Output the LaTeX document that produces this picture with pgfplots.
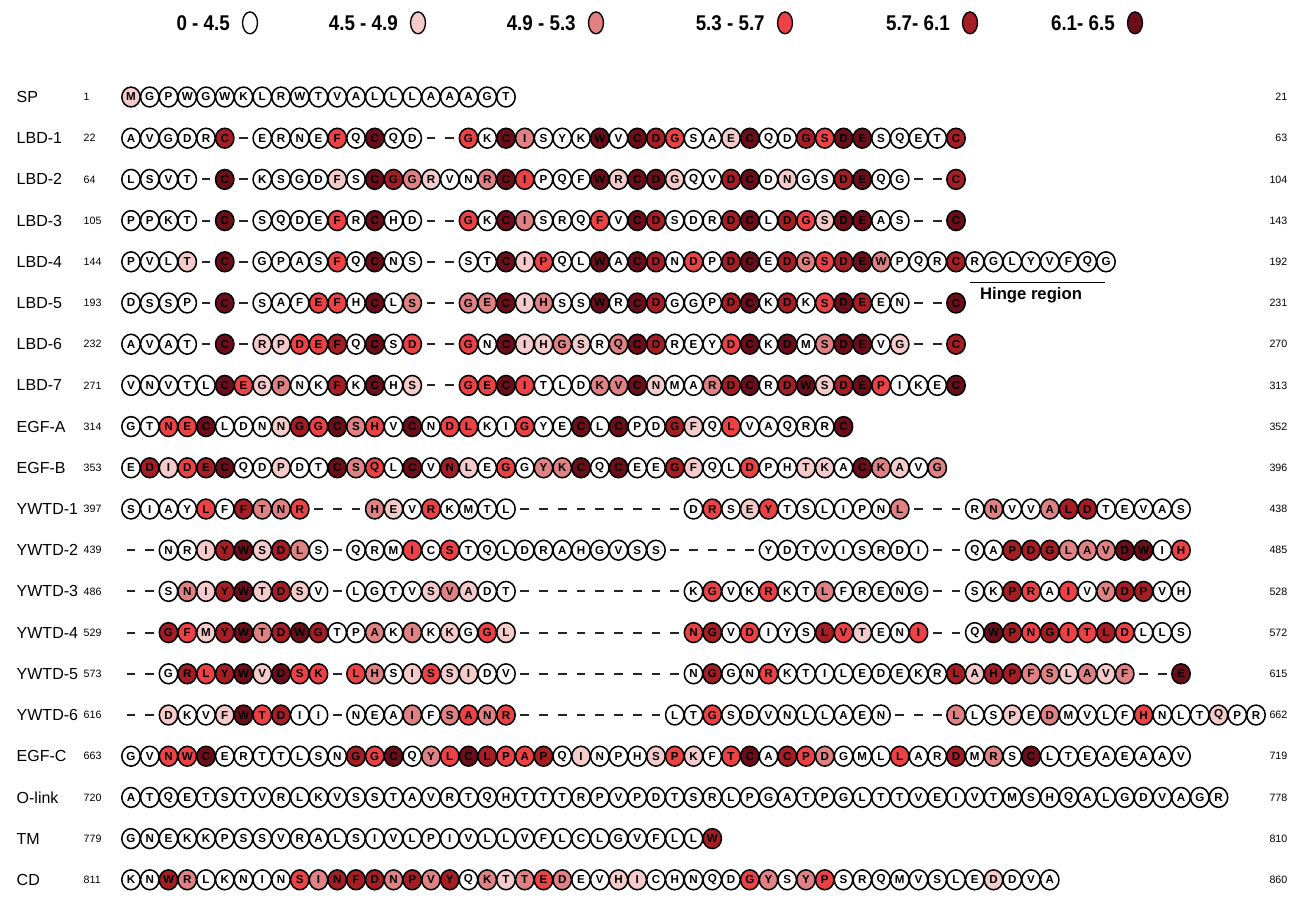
\documentclass[border=0pt]{standalone}
\usepackage{pgfplots}
\pgfplotsset{compat=1.18}
\usepackage{fontspec}
\setmainfont{Liberation Sans}
\newfontfamily\legfont[FakeStretch=0.88]{Liberation Sans}

% score classes: 0-4.5, 4.5-4.9, 4.9-5.3, 5.3-5.7, 5.7-6.1, 6.1-6.5
\definecolor{c1}{HTML}{F5CACA}
\definecolor{c2}{HTML}{E08283}
\definecolor{c3}{HTML}{EC4245}
\definecolor{c4}{HTML}{A51E23}
\definecolor{c5}{HTML}{6B0E19}

\newcommand\resfont{\bfseries\fontsize{8.7pt}{8.7pt}\selectfont}
\newcommand\labfont{\fontsize{12pt}{12pt}\selectfont}
\newcommand\numfont{\fontsize{8pt}{8pt}\selectfont}
\newcommand\keyfont{\legfont\bfseries\fontsize{16pt}{16pt}\selectfont}

\pgfplotsset{
  res/.style={
    only marks, scatter, scatter src=explicit symbolic,
    scatter/classes={
      0={mark=*,draw=black,fill=white},
      1={mark=*,draw=black,fill=c1},
      2={mark=*,draw=black,fill=c2},
      3={mark=*,draw=black,fill=c3},
      4={mark=*,draw=black,fill=c4},
      5={mark=*,draw=black,fill=c5}},
    mark size=6.9pt,
    every mark/.append style={line width=1.15pt, yscale=1.08},
    visualization depends on={value \thisrow{a}\as\resname},
    nodes near coords*={\resname},
    every node near coord/.append style={anchor=center, inner sep=0pt, text=black, font=\resfont},
  },
  gap/.style={only marks, mark=-, mark size=3.2pt, black!85, mark options={line width=1.5pt}},
}

% row name, first and last residue number
\newcommand\rowlab[4]{%
  \node[anchor=west, font=\labfont] at (axis cs:-6.347,#1) {#2};
  \node[anchor=west, font=\numfont] at (axis cs:-2.773,#1) {#3};
  \node[anchor=east, font=\numfont] at (axis cs:61.92,#1) {#4};}

% legend key: text end, ellipse centre, label, colour
\newcommand\legkey[4]{%
  \node[anchor=east, font=\keyfont, inner sep=0pt] at (axis cs:#1,-1.80) {#3};
  \draw[line width=1pt, fill=#4] (axis cs:#2,-1.80) ellipse [x radius=5.6pt, y radius=8.2pt];}

\begin{document}
\begin{tikzpicture}
\begin{axis}[
  scale only axis, width=973.5pt, height=672.75pt,
  xmin=-6.9867, xmax=62.24, ymin=-2.3544, ymax=19.4175, y dir=reverse,
  axis lines=none, clip=false]
\path (rel axis cs:0,0) rectangle (rel axis cs:1,1);

% SP
\addplot[res] table[x=x,y=y,meta=c,row sep=\\]{x y c a\\
0 0 1 M\\ 1 0 0 G\\ 2 0 0 P\\ 3 0 0 W\\ 4 0 0 G\\ 5 0 0 W\\ 6 0 0 K\\ 7 0 0 L\\ 8 0 0 R\\ 9 0 0 W\\ 10 0 0 T\\
11 0 0 V\\ 12 0 0 A\\ 13 0 0 L\\ 14 0 0 L\\ 15 0 0 L\\ 16 0 0 A\\ 17 0 0 A\\ 18 0 0 A\\ 19 0 0 G\\ 20 0 0 T\\
};
% LBD-1
\addplot[res] table[x=x,y=y,meta=c,row sep=\\]{x y c a\\
0 1 0 A\\ 1 1 0 V\\ 2 1 0 G\\ 3 1 0 D\\ 4 1 0 R\\ 5 1 4 C\\ 7 1 0 E\\ 8 1 0 R\\ 9 1 0 N\\ 10 1 0 E\\ 11 1 3 F\\
12 1 0 Q\\ 13 1 5 C\\ 14 1 0 Q\\ 15 1 0 D\\ 18 1 3 G\\ 19 1 0 K\\ 20 1 5 C\\ 21 1 2 I\\ 22 1 0 S\\ 23 1 0 Y\\
24 1 0 K\\ 25 1 5 W\\ 26 1 0 V\\ 27 1 5 C\\ 28 1 4 D\\ 29 1 3 G\\ 30 1 0 S\\ 31 1 0 A\\ 32 1 1 E\\ 33 1 5 C\\
34 1 0 Q\\ 35 1 0 D\\ 36 1 4 G\\ 37 1 3 S\\ 38 1 5 D\\ 39 1 5 E\\ 40 1 0 S\\ 41 1 0 Q\\ 42 1 0 E\\ 43 1 0 T\\ 44 1 4 C\\
};
% LBD-2
\addplot[res] table[x=x,y=y,meta=c,row sep=\\]{x y c a\\
0 2 0 L\\ 1 2 0 S\\ 2 2 0 V\\ 3 2 0 T\\ 5 2 5 C\\ 7 2 0 K\\ 8 2 0 S\\ 9 2 0 G\\ 10 2 0 D\\ 11 2 1 F\\ 12 2 0 S\\
13 2 5 C\\ 14 2 4 G\\ 15 2 2 G\\ 16 2 1 R\\ 17 2 0 V\\ 18 2 0 N\\ 19 2 2 R\\ 20 2 5 C\\ 21 2 3 I\\ 22 2 0 P\\
23 2 0 Q\\ 24 2 0 F\\ 25 2 5 W\\ 26 2 1 R\\ 27 2 5 C\\ 28 2 5 D\\ 29 2 1 G\\ 30 2 0 Q\\ 31 2 0 V\\ 32 2 4 D\\
33 2 5 C\\ 34 2 0 D\\ 35 2 1 N\\ 36 2 0 G\\ 37 2 0 S\\ 38 2 4 D\\ 39 2 5 E\\ 40 2 0 Q\\ 41 2 0 G\\ 44 2 4 C\\
};
% LBD-3
\addplot[res] table[x=x,y=y,meta=c,row sep=\\]{x y c a\\
0 3 0 P\\ 1 3 0 P\\ 2 3 0 K\\ 3 3 0 T\\ 5 3 5 C\\ 7 3 0 S\\ 8 3 0 Q\\ 9 3 0 D\\ 10 3 0 E\\ 11 3 3 F\\ 12 3 0 R\\
13 3 5 C\\ 14 3 0 H\\ 15 3 0 D\\ 18 3 3 G\\ 19 3 0 K\\ 20 3 5 C\\ 21 3 2 I\\ 22 3 0 S\\ 23 3 0 R\\ 24 3 0 Q\\
25 3 3 F\\ 26 3 0 V\\ 27 3 5 C\\ 28 3 4 D\\ 29 3 0 S\\ 30 3 0 D\\ 31 3 0 R\\ 32 3 4 D\\ 33 3 5 C\\ 34 3 0 L\\
35 3 4 D\\ 36 3 3 G\\ 37 3 1 S\\ 38 3 5 D\\ 39 3 5 E\\ 40 3 0 A\\ 41 3 0 S\\ 44 3 5 C\\
};
% LBD-4
\addplot[res] table[x=x,y=y,meta=c,row sep=\\]{x y c a\\
0 4 0 P\\ 1 4 0 V\\ 2 4 0 L\\ 3 4 1 T\\ 5 4 5 C\\ 7 4 0 G\\ 8 4 0 P\\ 9 4 0 A\\ 10 4 0 S\\ 11 4 3 F\\ 12 4 0 Q\\
13 4 5 C\\ 14 4 0 N\\ 15 4 0 S\\ 18 4 0 S\\ 19 4 0 T\\ 20 4 5 C\\ 21 4 1 I\\ 22 4 3 P\\ 23 4 0 Q\\ 24 4 0 L\\
25 4 5 W\\ 26 4 0 A\\ 27 4 5 C\\ 28 4 4 D\\ 29 4 0 N\\ 30 4 3 D\\ 31 4 0 P\\ 32 4 4 D\\ 33 4 5 C\\ 34 4 0 E\\
35 4 4 D\\ 36 4 2 G\\ 37 4 3 S\\ 38 4 4 D\\ 39 4 5 E\\ 40 4 2 W\\ 41 4 0 P\\ 42 4 0 Q\\ 43 4 0 R\\ 44 4 4 C\\
45 4 0 R\\ 46 4 0 G\\ 47 4 0 L\\ 48 4 0 Y\\ 49 4 0 V\\ 50 4 0 F\\ 51 4 0 Q\\ 52 4 0 G\\
};
% LBD-5
\addplot[res] table[x=x,y=y,meta=c,row sep=\\]{x y c a\\
0 5 0 D\\ 1 5 0 S\\ 2 5 0 S\\ 3 5 0 P\\ 5 5 5 C\\ 7 5 0 S\\ 8 5 0 A\\ 9 5 0 F\\ 10 5 3 E\\ 11 5 3 F\\ 12 5 0 H\\
13 5 5 C\\ 14 5 0 L\\ 15 5 2 S\\ 18 5 2 G\\ 19 5 2 E\\ 20 5 5 C\\ 21 5 1 I\\ 22 5 2 H\\ 23 5 0 S\\ 24 5 0 S\\
25 5 5 W\\ 26 5 0 R\\ 27 5 5 C\\ 28 5 4 D\\ 29 5 0 G\\ 30 5 0 G\\ 31 5 0 P\\ 32 5 4 D\\ 33 5 5 C\\ 34 5 0 K\\
35 5 4 D\\ 36 5 0 K\\ 37 5 3 S\\ 38 5 5 D\\ 39 5 4 E\\ 40 5 0 E\\ 41 5 0 N\\ 44 5 5 C\\
};
% LBD-6
\addplot[res] table[x=x,y=y,meta=c,row sep=\\]{x y c a\\
0 6 0 A\\ 1 6 0 V\\ 2 6 0 A\\ 3 6 0 T\\ 5 6 5 C\\ 7 6 1 R\\ 8 6 1 P\\ 9 6 3 D\\ 10 6 3 E\\ 11 6 4 F\\ 12 6 0 Q\\
13 6 5 C\\ 14 6 0 S\\ 15 6 3 D\\ 18 6 3 G\\ 19 6 0 N\\ 20 6 5 C\\ 21 6 1 I\\ 22 6 1 H\\ 23 6 2 G\\ 24 6 1 S\\
25 6 0 R\\ 26 6 2 Q\\ 27 6 5 C\\ 28 6 4 D\\ 29 6 0 R\\ 30 6 0 E\\ 31 6 0 Y\\ 32 6 3 D\\ 33 6 5 C\\ 34 6 0 K\\
35 6 5 D\\ 36 6 0 M\\ 37 6 2 S\\ 38 6 5 D\\ 39 6 5 E\\ 40 6 0 V\\ 41 6 1 G\\ 44 6 4 C\\
};
% LBD-7
\addplot[res] table[x=x,y=y,meta=c,row sep=\\]{x y c a\\
0 7 0 V\\ 1 7 0 N\\ 2 7 0 V\\ 3 7 0 T\\ 4 7 0 L\\ 5 7 5 C\\ 6 7 3 E\\ 7 7 1 G\\ 8 7 2 P\\ 9 7 0 N\\ 10 7 0 K\\
11 7 4 F\\ 12 7 0 K\\ 13 7 5 C\\ 14 7 0 H\\ 15 7 1 S\\ 18 7 3 G\\ 19 7 3 E\\ 20 7 5 C\\ 21 7 3 I\\ 22 7 0 T\\
23 7 0 L\\ 24 7 0 D\\ 25 7 2 K\\ 26 7 2 V\\ 27 7 5 C\\ 28 7 1 N\\ 29 7 0 M\\ 30 7 0 A\\ 31 7 2 R\\ 32 7 4 D\\
33 7 5 C\\ 34 7 0 R\\ 35 7 4 D\\ 36 7 5 W\\ 37 7 1 S\\ 38 7 4 D\\ 39 7 5 E\\ 40 7 3 P\\ 41 7 0 I\\ 42 7 0 K\\
43 7 0 E\\ 44 7 5 C\\
};
% EGF-A
\addplot[res] table[x=x,y=y,meta=c,row sep=\\]{x y c a\\
0 8 0 G\\ 1 8 0 T\\ 2 8 3 N\\ 3 8 3 E\\ 4 8 5 C\\ 5 8 0 L\\ 6 8 0 D\\ 7 8 0 N\\ 8 8 1 N\\ 9 8 4 G\\ 10 8 3 G\\
11 8 5 C\\ 12 8 2 S\\ 13 8 3 H\\ 14 8 0 V\\ 15 8 5 C\\ 16 8 0 N\\ 17 8 3 D\\ 18 8 3 L\\ 19 8 0 K\\ 20 8 0 I\\
21 8 3 G\\ 22 8 0 Y\\ 23 8 0 E\\ 24 8 5 C\\ 25 8 0 L\\ 26 8 5 C\\ 27 8 0 P\\ 28 8 0 D\\ 29 8 4 G\\ 30 8 1 F\\
31 8 0 Q\\ 32 8 3 L\\ 33 8 0 V\\ 34 8 0 A\\ 35 8 0 Q\\ 36 8 0 R\\ 37 8 0 R\\ 38 8 5 C\\
};
% EGF-B
\addplot[res] table[x=x,y=y,meta=c,row sep=\\]{x y c a\\
0 9 0 E\\ 1 9 4 D\\ 2 9 1 I\\ 3 9 3 D\\ 4 9 4 E\\ 5 9 5 C\\ 6 9 0 Q\\ 7 9 0 D\\ 8 9 1 P\\ 9 9 0 D\\ 10 9 0 T\\
11 9 5 C\\ 12 9 2 S\\ 13 9 3 Q\\ 14 9 0 L\\ 15 9 5 C\\ 16 9 0 V\\ 17 9 4 N\\ 18 9 1 L\\ 19 9 0 E\\ 20 9 3 G\\
21 9 0 G\\ 22 9 2 Y\\ 23 9 2 K\\ 24 9 5 C\\ 25 9 0 Q\\ 26 9 5 C\\ 27 9 0 E\\ 28 9 0 E\\ 29 9 4 G\\ 30 9 1 F\\
31 9 0 Q\\ 32 9 0 L\\ 33 9 3 D\\ 34 9 0 P\\ 35 9 0 H\\ 36 9 1 T\\ 37 9 1 K\\ 38 9 0 A\\ 39 9 5 C\\ 40 9 2 K\\
41 9 1 A\\ 42 9 0 V\\ 43 9 2 G\\
};
% YWTD-1
\addplot[res] table[x=x,y=y,meta=c,row sep=\\]{x y c a\\
0 10 0 S\\ 1 10 0 I\\ 2 10 0 A\\ 3 10 0 Y\\ 4 10 3 L\\ 5 10 0 F\\ 6 10 4 F\\ 7 10 2 T\\ 8 10 2 N\\ 9 10 3 R\\
13 10 2 H\\ 14 10 1 E\\ 15 10 0 V\\ 16 10 3 R\\ 17 10 0 K\\ 18 10 0 M\\ 19 10 0 T\\ 20 10 0 L\\
30 10 0 D\\ 31 10 3 R\\ 32 10 0 S\\ 33 10 1 E\\ 34 10 3 Y\\ 35 10 0 T\\ 36 10 0 S\\ 37 10 0 L\\ 38 10 0 I\\
39 10 0 P\\ 40 10 0 N\\ 41 10 2 L\\ 45 10 0 R\\ 46 10 2 N\\ 47 10 0 V\\ 48 10 0 V\\ 49 10 2 A\\ 50 10 4 L\\
51 10 4 D\\ 52 10 0 T\\ 53 10 0 E\\ 54 10 0 V\\ 55 10 0 A\\ 56 10 0 S\\
};
% YWTD-2
\addplot[res] table[x=x,y=y,meta=c,row sep=\\]{x y c a\\
2 11 0 N\\ 3 11 0 R\\ 4 11 1 I\\ 5 11 4 Y\\ 6 11 5 W\\ 7 11 1 S\\ 8 11 4 D\\ 9 11 2 L\\ 10 11 0 S\\
12 11 0 Q\\ 13 11 0 R\\ 14 11 0 M\\ 15 11 3 I\\ 16 11 0 C\\ 17 11 3 S\\ 18 11 0 T\\ 19 11 0 Q\\ 20 11 0 L\\
21 11 0 D\\ 22 11 0 R\\ 23 11 0 A\\ 24 11 0 H\\ 25 11 0 G\\ 26 11 0 V\\ 27 11 0 S\\ 28 11 0 S\\
34 11 0 Y\\ 35 11 0 D\\ 36 11 0 T\\ 37 11 0 V\\ 38 11 0 I\\ 39 11 0 S\\ 40 11 0 R\\ 41 11 0 D\\ 42 11 0 I\\
45 11 0 Q\\ 46 11 0 A\\ 47 11 4 P\\ 48 11 4 D\\ 49 11 4 G\\ 50 11 2 L\\ 51 11 2 A\\ 52 11 2 V\\ 53 11 5 D\\
54 11 5 W\\ 55 11 0 I\\ 56 11 3 H\\
};
% YWTD-3
\addplot[res] table[x=x,y=y,meta=c,row sep=\\]{x y c a\\
2 12 0 S\\ 3 12 2 N\\ 4 12 1 I\\ 5 12 4 Y\\ 6 12 5 W\\ 7 12 1 T\\ 8 12 4 D\\ 9 12 1 S\\ 10 12 0 V\\
12 12 0 L\\ 13 12 0 G\\ 14 12 0 T\\ 15 12 0 V\\ 16 12 1 S\\ 17 12 2 V\\ 18 12 1 A\\ 19 12 0 D\\ 20 12 0 T\\
30 12 0 K\\ 31 12 3 G\\ 32 12 0 V\\ 33 12 0 K\\ 34 12 3 R\\ 35 12 0 K\\ 36 12 0 T\\ 37 12 2 L\\ 38 12 0 F\\
39 12 0 R\\ 40 12 0 E\\ 41 12 0 N\\ 42 12 0 G\\ 45 12 0 S\\ 46 12 0 K\\ 47 12 4 P\\ 48 12 3 R\\ 49 12 0 A\\
50 12 3 I\\ 51 12 0 V\\ 52 12 2 V\\ 53 12 4 D\\ 54 12 4 P\\ 55 12 0 V\\ 56 12 0 H\\
};
% YWTD-4
\addplot[res] table[x=x,y=y,meta=c,row sep=\\]{x y c a\\
2 13 4 G\\ 3 13 3 F\\ 4 13 1 M\\ 5 13 4 Y\\ 6 13 5 W\\ 7 13 2 T\\ 8 13 4 D\\ 9 13 5 W\\ 10 13 4 G\\ 11 13 0 T\\
12 13 0 P\\ 13 13 2 A\\ 14 13 0 K\\ 15 13 2 I\\ 16 13 0 K\\ 17 13 1 K\\ 18 13 0 G\\ 19 13 3 G\\ 20 13 1 L\\
30 13 3 N\\ 31 13 4 G\\ 32 13 0 V\\ 33 13 3 D\\ 34 13 0 I\\ 35 13 0 Y\\ 36 13 0 S\\ 37 13 4 L\\ 38 13 3 V\\
39 13 1 T\\ 40 13 0 E\\ 41 13 0 N\\ 42 13 3 I\\ 45 13 0 Q\\ 46 13 5 W\\ 47 13 4 P\\ 48 13 3 N\\ 49 13 4 G\\
50 13 3 I\\ 51 13 3 T\\ 52 13 4 L\\ 53 13 3 D\\ 54 13 0 L\\ 55 13 0 L\\ 56 13 0 S\\
};
% YWTD-5
\addplot[res] table[x=x,y=y,meta=c,row sep=\\]{x y c a\\
2 14 0 G\\ 3 14 4 R\\ 4 14 3 L\\ 5 14 4 Y\\ 6 14 5 W\\ 7 14 1 V\\ 8 14 5 D\\ 9 14 3 S\\ 10 14 3 K\\
12 14 3 L\\ 13 14 2 H\\ 14 14 0 S\\ 15 14 1 I\\ 16 14 3 S\\ 17 14 1 S\\ 18 14 1 I\\ 19 14 0 D\\ 20 14 0 V\\
30 14 0 N\\ 31 14 4 G\\ 32 14 0 G\\ 33 14 0 N\\ 34 14 3 R\\ 35 14 0 K\\ 36 14 0 T\\ 37 14 0 I\\ 38 14 0 L\\
39 14 0 E\\ 40 14 0 D\\ 41 14 0 E\\ 42 14 0 K\\ 43 14 0 R\\ 44 14 4 L\\ 45 14 1 A\\ 46 14 4 H\\ 47 14 4 P\\
48 14 2 F\\ 49 14 2 S\\ 50 14 1 L\\ 51 14 2 A\\ 52 14 1 V\\ 53 14 2 F\\ 56 14 5 E\\
};
% YWTD-6
\addplot[res] table[x=x,y=y,meta=c,row sep=\\]{x y c a\\
2 15 1 D\\ 3 15 0 K\\ 4 15 0 V\\ 5 15 1 F\\ 6 15 5 W\\ 7 15 3 T\\ 8 15 4 D\\ 9 15 0 I\\ 10 15 0 I\\
12 15 0 N\\ 13 15 0 E\\ 14 15 0 A\\ 15 15 2 I\\ 16 15 0 F\\ 17 15 2 S\\ 18 15 3 A\\ 19 15 2 N\\ 20 15 3 R\\
29 15 0 L\\ 30 15 0 T\\ 31 15 3 G\\ 32 15 0 S\\ 33 15 0 D\\ 34 15 0 V\\ 35 15 0 N\\ 36 15 0 L\\ 37 15 0 L\\
38 15 0 A\\ 39 15 0 E\\ 40 15 0 N\\ 44 15 2 L\\ 45 15 0 L\\ 46 15 0 S\\ 47 15 1 P\\ 48 15 0 E\\ 49 15 2 D\\
50 15 0 M\\ 51 15 0 V\\ 52 15 0 L\\ 53 15 0 F\\ 54 15 3 H\\ 55 15 0 N\\ 56 15 0 L\\ 57 15 0 T\\ 58 15 1 Q\\
59 15 0 P\\ 60 15 0 R\\
};
% EGF-C
\addplot[res] table[x=x,y=y,meta=c,row sep=\\]{x y c a\\
0 16 0 G\\ 1 16 0 V\\ 2 16 3 N\\ 3 16 3 W\\ 4 16 5 C\\ 5 16 0 E\\ 6 16 0 R\\ 7 16 0 T\\ 8 16 0 T\\ 9 16 0 L\\
10 16 0 S\\ 11 16 0 N\\ 12 16 4 G\\ 13 16 3 G\\ 14 16 5 C\\ 15 16 0 Q\\ 16 16 2 Y\\ 17 16 3 L\\ 18 16 5 C\\
19 16 4 L\\ 20 16 3 P\\ 21 16 3 A\\ 22 16 4 P\\ 23 16 0 Q\\ 24 16 1 I\\ 25 16 0 N\\ 26 16 0 P\\ 27 16 0 H\\
28 16 1 S\\ 29 16 3 P\\ 30 16 1 K\\ 31 16 0 F\\ 32 16 3 T\\ 33 16 5 C\\ 34 16 0 A\\ 35 16 4 C\\ 36 16 3 P\\
37 16 2 D\\ 38 16 0 G\\ 39 16 0 M\\ 40 16 0 L\\ 41 16 3 L\\ 42 16 0 A\\ 43 16 0 R\\ 44 16 4 D\\ 45 16 0 M\\
46 16 2 R\\ 47 16 0 S\\ 48 16 5 C\\ 49 16 0 L\\ 50 16 0 T\\ 51 16 0 E\\ 52 16 0 A\\ 53 16 0 E\\ 54 16 0 A\\
55 16 0 A\\ 56 16 0 V\\
};
% O-link
\addplot[res] table[x=x,y=y,meta=c,row sep=\\]{x y c a\\
0 17 0 A\\ 1 17 0 T\\ 2 17 0 Q\\ 3 17 0 E\\ 4 17 0 T\\ 5 17 0 S\\ 6 17 0 T\\ 7 17 0 V\\ 8 17 0 R\\ 9 17 0 L\\
10 17 0 K\\ 11 17 0 V\\ 12 17 0 S\\ 13 17 0 S\\ 14 17 0 T\\ 15 17 0 A\\ 16 17 0 V\\ 17 17 0 R\\ 18 17 0 T\\
19 17 0 Q\\ 20 17 0 H\\ 21 17 0 T\\ 22 17 0 T\\ 23 17 0 T\\ 24 17 0 R\\ 25 17 0 P\\ 26 17 0 V\\ 27 17 0 P\\
28 17 0 D\\ 29 17 0 T\\ 30 17 0 S\\ 31 17 0 R\\ 32 17 0 L\\ 33 17 0 P\\ 34 17 0 G\\ 35 17 0 A\\ 36 17 0 T\\
37 17 0 P\\ 38 17 0 G\\ 39 17 0 L\\ 40 17 0 T\\ 41 17 0 T\\ 42 17 0 V\\ 43 17 0 E\\ 44 17 0 I\\ 45 17 0 V\\
46 17 0 T\\ 47 17 0 M\\ 48 17 0 S\\ 49 17 0 H\\ 50 17 0 Q\\ 51 17 0 A\\ 52 17 0 L\\ 53 17 0 G\\ 54 17 0 D\\
55 17 0 V\\ 56 17 0 A\\ 57 17 0 G\\ 58 17 0 R\\
};
% TM
\addplot[res] table[x=x,y=y,meta=c,row sep=\\]{x y c a\\
0 18 0 G\\ 1 18 0 N\\ 2 18 0 E\\ 3 18 0 K\\ 4 18 0 K\\ 5 18 0 P\\ 6 18 0 S\\ 7 18 0 S\\ 8 18 0 V\\ 9 18 0 R\\
10 18 0 A\\ 11 18 0 L\\ 12 18 0 S\\ 13 18 0 I\\ 14 18 0 V\\ 15 18 0 L\\ 16 18 0 P\\ 17 18 0 I\\ 18 18 0 V\\
19 18 0 L\\ 20 18 0 L\\ 21 18 0 V\\ 22 18 0 F\\ 23 18 0 L\\ 24 18 0 C\\ 25 18 0 L\\ 26 18 0 G\\ 27 18 0 V\\
28 18 0 F\\ 29 18 0 L\\ 30 18 0 L\\ 31 18 4 W\\
};
% CD
\addplot[res] table[x=x,y=y,meta=c,row sep=\\]{x y c a\\
0 19 0 K\\ 1 19 0 N\\ 2 19 4 W\\ 3 19 2 R\\ 4 19 0 L\\ 5 19 0 K\\ 6 19 0 N\\ 7 19 0 I\\ 8 19 0 N\\ 9 19 3 S\\
10 19 2 I\\ 11 19 4 N\\ 12 19 4 F\\ 13 19 4 D\\ 14 19 2 N\\ 15 19 4 P\\ 16 19 2 V\\ 17 19 4 Y\\ 18 19 0 Q\\
19 19 2 K\\ 20 19 1 T\\ 21 19 2 T\\ 22 19 3 E\\ 23 19 2 D\\ 24 19 0 E\\ 25 19 0 V\\ 26 19 1 H\\ 27 19 1 I\\
28 19 0 C\\ 29 19 0 H\\ 30 19 0 N\\ 31 19 0 Q\\ 32 19 0 D\\ 33 19 3 G\\ 34 19 2 Y\\ 35 19 0 S\\ 36 19 2 Y\\
37 19 3 P\\ 38 19 0 S\\ 39 19 0 R\\ 40 19 0 Q\\ 41 19 0 M\\ 42 19 0 V\\ 43 19 0 S\\ 44 19 0 L\\ 45 19 0 E\\
46 19 1 D\\ 47 19 0 D\\ 48 19 0 V\\ 49 19 0 A\\
};

% alignment gaps
\addplot[gap] table[row sep=\\]{x y\\
6 1\\ 16 1\\ 17 1\\
4 2\\ 6 2\\ 42 2\\ 43 2\\
4 3\\ 6 3\\ 16 3\\ 17 3\\ 42 3\\ 43 3\\
4 4\\ 6 4\\ 16 4\\ 17 4\\
4 5\\ 6 5\\ 16 5\\ 17 5\\ 42 5\\ 43 5\\
4 6\\ 6 6\\ 16 6\\ 17 6\\ 42 6\\ 43 6\\
16 7\\ 17 7\\
10 10\\ 11 10\\ 12 10\\ 21 10\\ 22 10\\ 23 10\\ 24 10\\ 25 10\\ 26 10\\ 27 10\\ 28 10\\ 29 10\\ 42 10\\ 43 10\\ 44 10\\
0 11\\ 1 11\\ 11 11\\ 29 11\\ 30 11\\ 31 11\\ 32 11\\ 33 11\\ 43 11\\ 44 11\\
0 12\\ 1 12\\ 11 12\\ 21 12\\ 22 12\\ 23 12\\ 24 12\\ 25 12\\ 26 12\\ 27 12\\ 28 12\\ 29 12\\ 43 12\\ 44 12\\
0 13\\ 1 13\\ 21 13\\ 22 13\\ 23 13\\ 24 13\\ 25 13\\ 26 13\\ 27 13\\ 28 13\\ 29 13\\ 43 13\\ 44 13\\
0 14\\ 1 14\\ 11 14\\ 21 14\\ 22 14\\ 23 14\\ 24 14\\ 25 14\\ 26 14\\ 27 14\\ 28 14\\ 29 14\\ 54 14\\ 55 14\\
0 15\\ 1 15\\ 11 15\\ 21 15\\ 22 15\\ 23 15\\ 24 15\\ 25 15\\ 26 15\\ 27 15\\ 28 15\\ 41 15\\ 42 15\\ 43 15\\
};

% domain names and residue ranges
\rowlab{0}{SP}{1}{21}
\rowlab{1}{LBD-1}{22}{63}
\rowlab{2}{LBD-2}{64}{104}
\rowlab{3}{LBD-3}{105}{143}
\rowlab{4}{LBD-4}{144}{192}
\rowlab{5}{LBD-5}{193}{231}
\rowlab{6}{LBD-6}{232}{270}
\rowlab{7}{LBD-7}{271}{313}
\rowlab{8}{EGF-A}{314}{352}
\rowlab{9}{EGF-B}{353}{396}
\rowlab{10}{YWTD-1}{397}{438}
\rowlab{11}{YWTD-2}{439}{485}
\rowlab{12}{YWTD-3}{486}{528}
\rowlab{13}{YWTD-4}{529}{572}
\rowlab{14}{YWTD-5}{573}{615}
\rowlab{15}{YWTD-6}{616}{662}
\rowlab{16}{EGF-C}{663}{719}
\rowlab{17}{O-link}{720}{778}
\rowlab{18}{TM}{779}{810}
\rowlab{19}{CD}{811}{860}

% hinge region
\draw[line width=1.1pt] (axis cs:44.75,4.50) -- (axis cs:51.95,4.50);
\node[font=\bfseries\fontsize{12.5pt}{12.5pt}\selectfont] at (axis cs:48.0,4.80) {Hinge region};

% colour key
\legkey{5.28}{6.347}{0 - 4.5}{white}
\legkey{14.24}{15.307}{4.5 - 4.9}{c1}
\legkey{23.73}{24.80}{4.9 - 5.3}{c2}
\legkey{33.81}{34.88}{5.3 - 5.7}{c3}
\legkey{43.68}{44.747}{5.7- 6.1}{c4}
\legkey{52.48}{53.547}{6.1- 6.5}{c5}
\end{axis}
\end{tikzpicture}
\end{document}
